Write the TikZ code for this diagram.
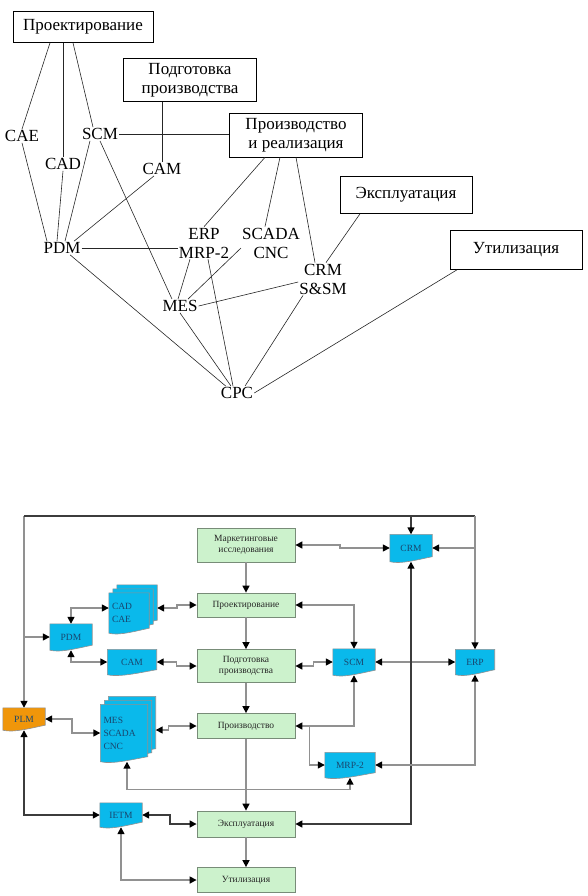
\documentclass[tikz,border=0pt]{standalone}
\usepackage{fontspec}
\setmainfont{Liberation Serif}
\usetikzlibrary{arrows.meta,calc,backgrounds}
\definecolor{stagegreen}{RGB}{204,242,204}
\definecolor{stageline}{RGB}{120,140,120}
\definecolor{sysblue}{RGB}{10,185,235}
\definecolor{sysorange}{RGB}{240,150,10}
\definecolor{systext}{RGB}{25,70,110}
\definecolor{linkgray}{RGB}{145,145,145}
\definecolor{linkdark}{RGB}{60,60,60}
% outline of a document-like shape behind a node
\newcommand{\docshape}[3]{%
  \filldraw[fill=#2,draw=linkgray,line width=0.6pt]
    ($(#1.north west)+(#3pt,#3pt)$) -- ($(#1.north east)+(#3pt,#3pt)$)
    -- ($(#1.south east)+(#3pt,#3pt+5pt)$)
    .. controls ($(#1.south)!.5!(#1.south east)+(#3pt,#3pt+3pt)$)
    and ($(#1.south west)!.5!(#1.south)+(#3pt,#3pt-3pt)$)
    .. ($(#1.south west)+(#3pt,#3pt)$) -- cycle;}
\begin{document}
\begin{tikzpicture}[x=1pt,y=-1pt,
  topbox/.style={draw=black,line width=0.6pt,fill=white,align=center,
    font=\fontsize{17}{19}\selectfont,inner sep=2pt},
  toplabel/.style={align=center,font=\fontsize{17}{19}\selectfont,inner sep=1pt},
  tline/.style={draw=black!85,line width=0.6pt},
  stage/.style={draw=stageline,fill=stagegreen,line width=0.8pt,minimum width=98pt,
    align=center,text=black!85,font=\fontsize{9.5}{11}\selectfont},
  sysnode/.style={text=systext,inner sep=3pt,font=\fontsize{9.5}{13}\selectfont},
  link/.style={draw=linkgray,line width=1.5pt,
    >={Triangle[length=7pt,width=7pt,color=black]}},
  darklink/.style={link,draw=linkdark}]
  \useasboundingbox (0,0) rectangle (588,896);

  % upper scheme
  \node[topbox,minimum width=140pt,minimum height=31pt] (design) at (83,27) {Проектирование};
  \node[topbox,minimum width=133pt,minimum height=43pt] (prep) at (190,80) {Подготовка\\производства};
  \node[topbox,minimum width=133pt,minimum height=44pt] (prod) at (296,135) {Производство\\и реализация};
  \node[topbox,minimum width=132pt,minimum height=37pt] (oper) at (406,195) {Эксплуатация};
  \node[topbox,minimum width=132pt,minimum height=39pt] (disp) at (516,250) {Утилизация};
  \node[toplabel] (cae) at (22,136) {CAE};
  \node[toplabel] (cad) at (63,164) {CAD};
  \node[toplabel] (scm) at (100,134) {SCM};
  \node[toplabel] (cam) at (162,169) {CAM};
  \node[toplabel] (pdm) at (62,248) {PDM};
  \node[toplabel] (erp) at (204,243) {ERP\\MRP-2};
  \node[toplabel] (scada) at (271,243) {SCADA\\CNC};
  \node[toplabel] (crm) at (323,279) {CRM\\S\&SM};
  \node[toplabel] (mes) at (180,306) {MES};
  \node[toplabel] (cpc) at (237,393) {CPC};

  \draw[tline] ([xshift=-33pt]design.south) -- (cae.north);
  \draw[tline] ([xshift=-20pt]design.south) -- (cad.north);
  \draw[tline] ([xshift=-10pt]design.south) -- ([xshift=-7pt]scm.north);
  \draw[tline] (cae.south) -- ([xshift=-15pt]pdm.north);
  \draw[tline] (cad.south) -- ([xshift=-5pt]pdm.north);
  \draw[tline] ([xshift=-10pt]scm.south) -- ([xshift=3pt]pdm.north);
  \draw[tline] ([xshift=-8pt]cam.south) -- ([xshift=12pt]pdm.north);
  \draw[tline] (scm.south) -- ([xshift=-8pt]mes.north);
  \draw[tline] (scm.east) -- (scm.east -| prod.west);
  \draw[tline] (cam.north) -- (cam.north |- prep.south);
  \draw[tline] ([xshift=-31pt]prod.south) -- (erp.north);
  \draw[tline] ([xshift=-16pt]prod.south) -- ([xshift=-6pt]scada.north);
  \draw[tline] (prod.south) -- ([xshift=-8pt]crm.north);
  \draw[tline] ([xshift=-46pt]oper.south) -- ([xshift=3pt]crm.north);
  \draw[tline] (pdm.east) -- (pdm.east -| erp.west);
  \draw[tline] ([xshift=8pt]pdm.south) -- ([xshift=6pt]cpc.north west);
  \draw[tline] ([xshift=-14pt]erp.south) -- ([xshift=-2pt]mes.north);
  \draw[tline] ([xshift=4pt]erp.south) -- ([xshift=-4pt]cpc.north);
  \draw[tline] ([yshift=-5pt]scada.west) -- ([xshift=8pt]mes.north);
  \draw[tline] (mes.east) -- ([yshift=-3pt]crm.west);
  \draw[tline] (mes.south) -- ([xshift=-6pt]cpc.north);
  \draw[tline] ([xshift=-20pt]crm.south) -- ([xshift=8pt]cpc.north);
  \draw[tline] ([xshift=-59pt]disp.south) -- (cpc.east);

  % lower scheme
  \node[stage,minimum height=34pt] (market) at (246,545) {Маркетинговые\\исследования};
  \node[stage,minimum height=24pt] (design2) at (246,605) {Проектирование};
  \node[stage,minimum height=33pt] (prep2) at (246,666) {Подготовка\\производства};
  \node[stage,minimum height=25pt] (prod2) at (246,726) {Производство};
  \node[stage,minimum height=26pt] (oper2) at (246,824) {Эксплуатация};
  \node[stage,minimum height=25pt] (disp2) at (246,880) {Утилизация};

  \node[sysnode,minimum width=42pt,minimum height=27pt] (crm2) at (411,548) {CRM};
  \node[sysnode,minimum width=42pt,minimum height=26pt] (scm2) at (354,662) {SCM};
  \node[sysnode,minimum width=39pt,minimum height=25pt] (erp2) at (475,662) {ERP};
  \node[sysnode,minimum width=50pt,minimum height=25pt] (mrp2) at (350,765) {MRP-2};
  \node[sysnode,minimum width=42pt,minimum height=26pt] (pdm2) at (71,637) {PDM};
  \node[sysnode,minimum width=49pt,minimum height=25pt] (cam2) at (132,662) {CAM};
  \node[sysnode,text width=34pt,align=left,minimum height=40pt] (cad2) at (129,613) {CAD\\CAE};
  \node[sysnode,text width=41pt,align=left,minimum height=57pt] (mes2) at (124,733) {MES\\SCADA\\CNC};
  \node[sysnode,minimum width=42pt,minimum height=22pt] (plm) at (24,719) {PLM};
  \node[sysnode,minimum width=42pt,minimum height=24pt] (ietm) at (121,815) {IETM};

  \begin{scope}[on background layer]
    \foreach \n in {crm2,scm2,erp2,mrp2,pdm2,cam2,ietm}
      {\docshape{\n}{sysblue}{0}}
    \foreach \o in {8,4,0}
      {\docshape{cad2}{sysblue}{\o} \docshape{mes2}{sysblue}{\o}}
    \docshape{plm}{sysorange}{0}
  \end{scope}

  \coordinate (tl) at (24,516);
  \coordinate (tr) at (475,516);
  \draw[link,->] (tl) -- (plm.north);
  \draw[darklink] (tl) -- (tr);
  \draw[link,->] (tr) -- (erp2.north);
  \draw[darklink,->] (crm2.north |- tl) -- (crm2.north);
  \draw[link,->] (tr |- crm2.east) -- (crm2.east);
  \draw[link,<->] (crm2.west) -- ++(-50,0) |- (market.east);
  \draw[link,->] (tl |- pdm2.west) -- (pdm2.west);
  \foreach \a/\b in {market/design2,design2/prep2,prep2/prod2,prod2/oper2,oper2/disp2}
    \draw[link,->] (\a.south) -- (\b.north);
  \draw[link,<->] ($(cad2.east)+(8pt,5pt)$) -- ++(20,0) |- (design2.west);
  \draw[link,<->] (pdm2.north) |- ($(cad2.west)+(0,5pt)$);
  \draw[link,<->] (pdm2.south) |- (cam2.west);
  \draw[link,<->] (cam2.east) -- ++(20,0) |- (prep2.west);
  \draw[link,<->] (design2.east) -| (scm2.north);
  \draw[link,<->] (prep2.east) -- ++(18,0) |- (scm2.west);
  \draw[link,<->] (scm2.east) -- (erp2.west);
  \draw[darklink,<->] (crm2.south) |- (oper2.east);
  \draw[link,<->] (scm2.south) |- (prod2.east);
  \draw[link,->] ($(prod2.east)+(14pt,0)$) |- (mrp2.west);
  \draw[link,<->] (erp2.south) |- (mrp2.east);
  \draw[link,<->] (mrp2.south) -- ++(0,12) -| ($(mes2.south)+(3pt,0)$);
  \draw[link,<->] ($(mes2.east)+(8pt,3pt)$) -- ++(13,0) |- (prod2.west);
  \draw[link,<->] (plm.east) -- ++(27,0) |- (mes2.west);
  \draw[darklink,<->] (plm.south) |- (ietm.west);
  \draw[darklink,<->] (ietm.east) -- ++(28,0) |- (oper2.west);
  \draw[link,<->] (disp2.west) -| (ietm.south);
\end{tikzpicture}
\end{document}
